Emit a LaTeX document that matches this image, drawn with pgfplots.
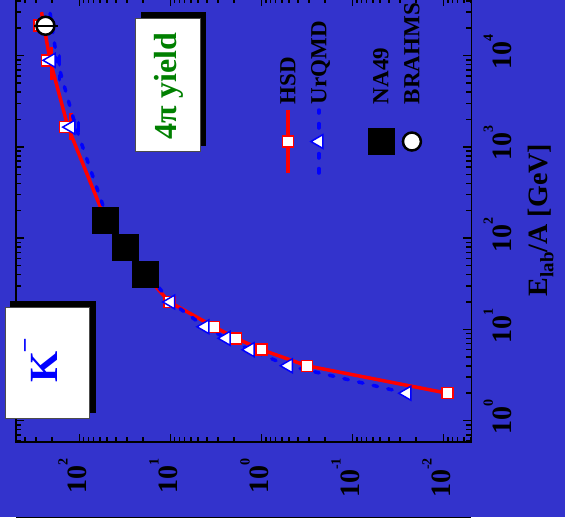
\documentclass[border=0pt]{standalone}
\usepackage{pgfplots}
\pgfplotsset{compat=1.18}
\usepackage{fontspec}
\setmainfont{Liberation Serif}
\definecolor{bgblue}{RGB}{51,51,204}
\definecolor{kblue}{RGB}{0,0,255}
\definecolor{ygreen}{RGB}{0,128,0}
\newcommand\ticks{\fontsize{28}{30}\selectfont\bfseries}
\newcommand\legfont{\fontsize{23}{25}\selectfont\bfseries}
\newcommand\sups[1]{\raisebox{19pt}{\fontsize{14}{14}\selectfont\bfseries #1}}
\pgfplotsset{
  rotleg/.style={legend image code/.code={%
    \path[draw=none, fill=none, use as bounding box] (-15pt,-35pt) rectangle (15pt,120pt);
    \draw[mark repeat=2,mark phase=2] plot coordinates {(0pt,-31.5pt) (0pt,0pt) (0pt,31.5pt)};
    \node[rotate=90, anchor=base west, inner sep=0pt, text=black, font=\legfont] at (7.5pt,37.5pt) {#1};}},
  emptyleg/.style={legend image code/.code={\path[draw=none, fill=none, use as bounding box] (-15pt,-35pt) rectangle (15pt,120pt);}},
}
\begin{document}
\begin{tikzpicture}
\fill[bgblue] (-16.2pt,-75pt) rectangle (548.8pt,442pt);
\useasboundingbox (-16.2pt,-75pt) rectangle (548.8pt,442pt);
\draw[line width=2pt] (0pt,-75.5pt) -- (455.2pt,-75.5pt);
\begin{axis}[
  at={(0pt,0pt)}, anchor=south west,
  scale only axis, width=455.2pt, height=444pt,
  xmode=log, ymode=log, x dir=reverse,
  xmin=0.00495, xmax=497, ymin=0.584, ymax=42900,
  clip=false, clip marker paths=true,
  axis line style={line width=1.5pt},
  every tick/.style={black, line width=1.5pt},
  major tick length=8pt, minor tick length=5pt,
  tick align=inside,
  xtick pos=both, ytick pos=both,
  xtick={0.01,0.1,1,10,100},
  xticklabels={10\sups{-2},10\sups{-1},10\sups{0},10\sups{1},10\sups{2}},
  minor xtick={0.005,0.006,0.007,0.008,0.009,0.02,0.03,0.04,0.05,0.06,0.07,0.08,0.09,0.2,0.3,0.4,0.5,0.6,0.7,0.8,0.9,2,3,4,5,6,7,8,9,20,30,40,50,60,70,80,90,200,300,400},
  ytick={1,10,100,1000,10000},
  yticklabels={10\rlap{\sups{0}},10\rlap{\sups{1}},10\rlap{\sups{2}},10\rlap{\sups{3}},10\rlap{\sups{4}}},
  minor ytick={0.6,0.7,0.8,0.9,2,3,4,5,6,7,8,9,20,30,40,50,60,70,80,90,200,300,400,500,600,700,800,900,2000,3000,4000,5000,6000,7000,8000,9000,20000,30000,40000},
  yticklabel pos=right,
  xticklabel style={font=\ticks, inner sep=0pt, xshift=7pt, yshift=-16pt, rotate=90, anchor=base east},
  yticklabel style={font=\ticks, inner sep=0pt, xshift=12pt, rotate=90, anchor=north},
  ylabel={E\raisebox{-6pt}{\fontsize{19}{19}\selectfont\bfseries lab}/A [GeV]},
  every axis y label/.style={at={(axis description cs:1,0.5)}, xshift=76pt, rotate=90, anchor=base, font=\ticks},
  legend columns=5,
  legend style={at={(axis description cs:0.5640,0.947)}, anchor=north west, draw=none, fill=none,
    inner sep=0pt, outer sep=0pt, nodes={inner sep=0pt, outer sep=0pt}, column sep=0pt, row sep=0pt},
]
% HSD line
\addplot[red, line width=3.5pt, forget plot] coordinates {
 (0.0091,2) (0.319,4) (1.0,6) (1.91,8) (3.33,10.7) (10.3,20) (19.1,40) (31.7,80) (51.7,158) (134,1650) (211,8900) (262,30000)};
\addplot[draw=none, forget plot, error bars/.cd, y dir=both, y explicit, error mark=none,
  error bar style={draw=red, line width=3.5pt}] coordinates {
 (125,1650) += (0,705) -= (0,459)
 (203,8900) += (0,3550) -= (0,3490)};
% UrQMD line
\addplot[blue, line width=3.5pt, dash pattern=on 4.5pt off 10.5pt, line cap=round, forget plot] coordinates {
 (0.0254,2) (0.509,4) (1.34,6) (2.46,8) (4.19,10.7) (9.97,20) (17.7,40) (30.1,80) (48.7,158) (110,1650) (177,8900) (211,29400)};
\addplot[draw=none, forget plot, error bars/.cd, y dir=both, y explicit, error mark=none,
  error bar style={draw=blue, line width=3.5pt, dash pattern=on 4.5pt off 10.5pt, line cap=round}] coordinates {
 (103,1650) += (0,705) -= (0,459)
 (167,8900) += (0,3550) -= (0,3490)};
% HSD markers
\addplot[only marks, mark=square*, mark size=5.5pt, mark options={fill=white, draw=red, line width=1.5pt}, forget plot] coordinates {
 (0.0091,2) (0.319,4) (1.0,6) (1.91,8) (3.33,10.7) (10.3,20) (19.1,40) (31.7,80) (51.7,158) (145,1650) (228,8900) (277,21300)};
% UrQMD markers
\addplot[only marks, mark=triangle*, mark size=8pt, mark options={fill=white, draw=blue, line width=1.5pt, rotate=90}, forget plot] coordinates {
 (0.0254,2) (0.509,4) (1.34,6) (2.46,8) (4.19,10.7) (9.97,20) (17.7,40) (30.1,80) (48.7,158) (125,1650) (206,8900) (235,21300)};
% NA49
\addplot[only marks, mark=square*, mark size=13pt, mark options={fill=black, draw=black}, forget plot] coordinates {
 (19.1,40) (31.7,80) (51.7,158)};
% BRAHMS
\addplot[only marks, mark=*, mark size=9pt, mark options={fill=white, draw=black, line width=2.5pt}, forget plot] coordinates {
 (237,21300)};
\addplot[black, mark=none, forget plot, error bars/.cd, x dir=both, x explicit,
  error bar style={line width=1.8pt}, error mark options={black, line width=1.8pt, mark size=5pt}] coordinates {
 (237,21300) +- (39,0)};
% legend
\addlegendimage{red, line width=3.5pt, mark=square*, mark size=5.5pt, mark options={fill=white, draw=red, line width=1.5pt, solid}, rotleg=HSD}
\addlegendentry{}
\addlegendimage{blue, line width=3.5pt, dash pattern=on 4.5pt off 10.5pt, line cap=round, mark=triangle*, mark size=8pt, mark options={fill=white, draw=blue, line width=1.5pt, solid, rotate=90}, rotleg=UrQMD}
\addlegendentry{}
\addlegendimage{emptyleg}
\addlegendentry{}
\addlegendimage{only marks, mark=square*, mark size=13pt, mark options={fill=black, draw=black}, rotleg=NA49}
\addlegendentry{}
\addlegendimage{only marks, mark=*, mark size=9pt, mark options={fill=white, draw=black, line width=2.5pt}, rotleg=BRAHMS}
\addlegendentry{}
% annotation boxes
\node[fill=black, minimum width=86pt, minimum height=112pt, inner sep=0pt] at (axis description cs:0.0808,0.1914) {};
\node[fill=white, draw=black!70, line width=0.8pt, minimum width=84pt, minimum height=111pt, inner sep=0pt] at (axis description cs:0.0677,0.179) {};
\node[rotate=90, text=kblue, inner sep=0pt, font=\fontsize{40}{40}\selectfont\bfseries] at (axis description cs:0.0545,0.1824) {K\raisebox{27pt}{\fontsize{24}{24}\selectfont\bfseries --}};
\node[fill=black, minimum width=65pt, minimum height=134pt, inner sep=0pt] at (axis description cs:0.3451,0.8176) {};
\node[fill=white, draw=black!70, line width=0.8pt, minimum width=65pt, minimum height=133pt, inner sep=0pt] at (axis description cs:0.3324,0.8052) {};
\node[rotate=90, text=ygreen, inner sep=0pt, font=\fontsize{32}{34}\selectfont\bfseries] at (axis description cs:0.3357,0.8018) {4π yield};
\end{axis}
\end{tikzpicture}
\end{document}
